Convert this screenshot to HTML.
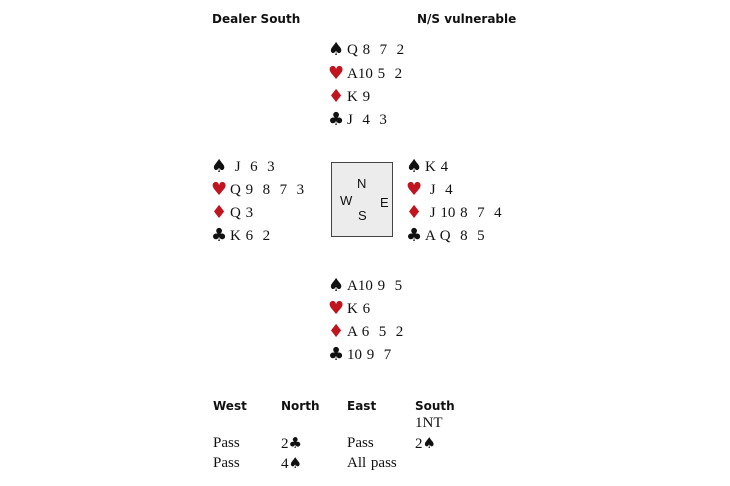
<!DOCTYPE html>
<html><head><style>
body{margin:0;width:730px;height:486px;background:#fff;position:relative;overflow:hidden;font-family:"Liberation Serif",serif;color:#111}
.t{position:absolute;font-size:15px;line-height:18px;white-space:pre;word-spacing:1px}
.h{position:absolute;font-family:"DejaVu Sans",sans-serif;font-weight:bold;font-size:12px;line-height:16px}
.r{color:#c0141f}
.s{display:inline-block;width:19px;font-family:"DejaVu Sans",sans-serif;font-size:18px;line-height:18px;vertical-align:top}
.b{font-family:"DejaVu Sans",sans-serif;font-size:15px}
.box{position:absolute;left:331px;top:162px;width:62px;height:75px;background:#ececec;border:1.5px solid #444;box-sizing:border-box}
.c{position:absolute;font-family:"Liberation Sans",sans-serif;font-size:13px}
</style></head><body>
<div class="h" style="left:212px;top:11px">Dealer South</div>
<div class="h" style="left:417px;top:11px">N/S vulnerable</div>

<div class="t" style="left:328px;top:41px"><span class="s">♠</span>Q 8  7  2</div>
<div class="t" style="left:328px;top:65px"><span class="s r">♥</span>A10 5  2</div>
<div class="t" style="left:328px;top:88px"><span class="s r">♦</span>K 9</div>
<div class="t" style="left:328px;top:111px"><span class="s">♣</span>J  4  3</div>

<div class="t" style="left:211px;top:158px"><span class="s">♠</span> J  6  3</div>
<div class="t" style="left:211px;top:181px"><span class="s r">♥</span>Q 9  8  7  3</div>
<div class="t" style="left:211px;top:204px"><span class="s r">♦</span>Q 3</div>
<div class="t" style="left:211px;top:227px"><span class="s">♣</span>K 6  2</div>

<div class="box"></div>
<div class="c" style="left:357px;top:176px">N</div>
<div class="c" style="left:340px;top:193px">W</div>
<div class="c" style="left:380px;top:195px">E</div>
<div class="c" style="left:358px;top:208px">S</div>

<div class="t" style="left:406px;top:158px"><span class="s">♠</span>K 4</div>
<div class="t" style="left:406px;top:181px"><span class="s r">♥</span> J  4</div>
<div class="t" style="left:406px;top:204px"><span class="s r">♦</span> J 10 8  7  4</div>
<div class="t" style="left:406px;top:227px"><span class="s">♣</span>A Q  8  5</div>

<div class="t" style="left:328px;top:277px"><span class="s">♠</span>A10 9  5</div>
<div class="t" style="left:328px;top:300px"><span class="s r">♥</span>K 6</div>
<div class="t" style="left:328px;top:323px"><span class="s r">♦</span>A 6  5  2</div>
<div class="t" style="left:328px;top:346px"><span class="s">♣</span>10 9  7</div>

<div class="h" style="left:213px;top:398px">West</div>
<div class="h" style="left:281px;top:398px">North</div>
<div class="h" style="left:347px;top:398px">East</div>
<div class="h" style="left:415px;top:398px">South</div>
<div class="t" style="left:415px;top:414px">1NT</div>
<div class="t" style="left:213px;top:434px">Pass</div>
<div class="t" style="left:281px;top:434px">2<span class="b">♣</span></div>
<div class="t" style="left:347px;top:434px">Pass</div>
<div class="t" style="left:415px;top:434px">2<span class="b">♠</span></div>
<div class="t" style="left:213px;top:454px">Pass</div>
<div class="t" style="left:281px;top:454px">4<span class="b">♠</span></div>
<div class="t" style="left:347px;top:454px">All pass</div>
</body></html>
